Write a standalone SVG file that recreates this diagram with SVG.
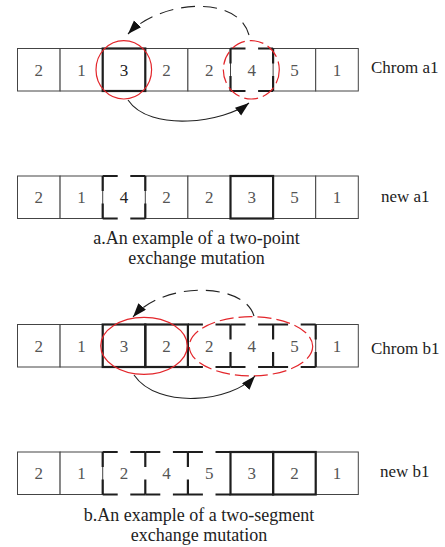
<svg xmlns="http://www.w3.org/2000/svg" width="445" height="547" viewBox="0 0 445 547">
  <style>
    .cell { fill: #fff; stroke: #444; stroke-width: 1; }
    .bold { fill: none; stroke: #1e1e1e; stroke-width: 2.2; }
    .dash { fill: none; stroke: #1e1e1e; stroke-width: 2.2; stroke-dasharray: 15 12.6; }
    text { font-family: "Liberation Serif", "Times New Roman", "DejaVu Serif", serif; }
    .num { font-size: 17px; fill: #555; text-anchor: middle; }
    .num.dark { fill: #222; }
    .label { font-size: 17px; fill: #222; }
    .caption { font-size: 18px; fill: #222; text-anchor: middle; }
    .sel { fill: none; stroke: #e3262b; stroke-width: 1.2; }
    .sel.dashed { stroke-dasharray: 14 5; }
    .arc { fill: none; stroke: #222; stroke-width: 1.1; }
    .arc.dashed { stroke-dasharray: 14 8; }
  </style>
  <defs>
    <marker id="head" markerUnits="userSpaceOnUse" markerWidth="16" markerHeight="12" refX="14" refY="5" orient="auto">
      <path d="M0,0 L14,5 L0,10 Z" fill="#111"/>
    </marker>
  </defs>

  <!-- Chrom a1 -->
  <g id="chrom-a1">
    <g id="a1-c0"><rect class="cell" x="17.5" y="48.5" width="42.6" height="42.5"/><text class="num" x="38.8" y="75.5">2</text></g>
    <g id="a1-c1"><rect class="cell" x="60.1" y="48.5" width="42.6" height="42.5"/><text class="num" x="81.4" y="75.5">1</text></g>
    <g id="a1-c3"><rect class="cell" x="145.3" y="48.5" width="42.6" height="42.5"/><text class="num" x="166.6" y="75.5">2</text></g>
    <g id="a1-c4"><rect class="cell" x="187.9" y="48.5" width="42.6" height="42.5"/><text class="num" x="209.2" y="75.5">2</text></g>
    <g id="a1-c6"><rect class="cell" x="273.1" y="48.5" width="42.6" height="42.5"/><text class="num" x="294.4" y="75.5">5</text></g>
    <g id="a1-c7"><rect class="cell" x="315.7" y="48.5" width="42.6" height="42.5"/><text class="num" x="337" y="75.5">1</text></g>
    <g id="a1-c5"><path class="dash" d="M230.5,48.5h42.6M273.1,48.5v42.5M273.1,91h-42.6M230.5,91v-42.5"/><text class="num" x="251.8" y="75.5">4</text></g>
    <g id="a1-c2"><rect class="bold" x="102.7" y="48.5" width="42.6" height="42.5"/><text class="num dark" x="124" y="75.5">3</text></g>
    <text class="label" x="371" y="73">Chrom a1</text>
  </g>

  <!-- new a1 -->
  <g id="new-a1">
    <g id="na1-c0"><rect class="cell" x="17.5" y="176" width="42.6" height="42.5"/><text class="num" x="38.8" y="203">2</text></g>
    <g id="na1-c1"><rect class="cell" x="60.1" y="176" width="42.6" height="42.5"/><text class="num" x="81.4" y="203">1</text></g>
    <g id="na1-c3"><rect class="cell" x="145.3" y="176" width="42.6" height="42.5"/><text class="num" x="166.6" y="203">2</text></g>
    <g id="na1-c4"><rect class="cell" x="187.9" y="176" width="42.6" height="42.5"/><text class="num" x="209.2" y="203">2</text></g>
    <g id="na1-c6"><rect class="cell" x="273.1" y="176" width="42.6" height="42.5"/><text class="num" x="294.4" y="203">5</text></g>
    <g id="na1-c7"><rect class="cell" x="315.7" y="176" width="42.6" height="42.5"/><text class="num" x="337" y="203">1</text></g>
    <g id="na1-c2"><path class="dash" d="M102.7,176h42.6M145.3,176v42.5M145.3,218.5h-42.6M102.7,218.5v-42.5"/><text class="num dark" x="124" y="203">4</text></g>
    <g id="na1-c5"><rect class="bold" x="230.5" y="176" width="42.6" height="42.5"/><text class="num" x="251.8" y="203">3</text></g>
    <text class="label" x="381" y="201.5">new a1</text>
  </g>

  <text class="caption" x="196.5" y="244">a.An example of a two-point</text>
  <text class="caption" x="196.5" y="263.5">exchange mutation</text>

  <!-- Chrom b1 -->
  <g id="chrom-b1">
    <g id="b1-c0"><rect class="cell" x="17.5" y="324.5" width="42.6" height="42.5"/><text class="num" x="38.8" y="351.5">2</text></g>
    <g id="b1-c1"><rect class="cell" x="60.1" y="324.5" width="42.6" height="42.5"/><text class="num" x="81.4" y="351.5">1</text></g>
    <g id="b1-c7"><rect class="cell" x="315.7" y="324.5" width="42.6" height="42.5"/><text class="num" x="337" y="351.5">1</text></g>
    <g id="b1-c4"><path class="dash" d="M187.9,324.5h42.6M230.5,324.5v42.5M230.5,367h-42.6"/><text class="num" x="209.2" y="351.5">2</text></g>
    <g id="b1-c5"><path class="dash" d="M230.5,324.5h42.6M273.1,324.5v42.5M273.1,367h-42.6"/><text class="num" x="251.8" y="351.5">4</text></g>
    <g id="b1-c6"><path class="dash" d="M273.1,324.5h42.6M315.7,324.5v42.5M315.7,367h-42.6"/><text class="num" x="294.4" y="351.5">5</text></g>
    <g id="b1-c2"><rect class="bold" x="102.7" y="324.5" width="42.6" height="42.5"/><text class="num" x="124" y="351.5">3</text></g>
    <g id="b1-c3"><rect class="bold" x="145.3" y="324.5" width="42.6" height="42.5"/><text class="num" x="166.6" y="351.5">2</text></g>
    <text class="label" x="371" y="353.5">Chrom b1</text>
  </g>

  <!-- new b1 -->
  <g id="new-b1">
    <g id="nb1-c0"><rect class="cell" x="17.5" y="452" width="42.6" height="42.5"/><text class="num" x="38.8" y="479">2</text></g>
    <g id="nb1-c1"><rect class="cell" x="60.1" y="452" width="42.6" height="42.5"/><text class="num" x="81.4" y="479">1</text></g>
    <g id="nb1-c7"><rect class="cell" x="315.7" y="452" width="42.6" height="42.5"/><text class="num" x="337" y="479">1</text></g>
    <g id="nb1-c2"><path class="dash" d="M102.7,452h42.6M145.3,452v42.5M145.3,494.5h-42.6M102.7,494.5v-42.5"/><text class="num" x="124" y="479">2</text></g>
    <g id="nb1-c3"><path class="dash" d="M145.3,452h42.6M187.9,452v42.5M187.9,494.5h-42.6"/><text class="num" x="166.6" y="479">4</text></g>
    <g id="nb1-c4"><path class="dash" d="M187.9,452h42.6M230.5,494.5h-42.6"/><text class="num" x="209.2" y="479">5</text></g>
    <g id="nb1-c5"><rect class="bold" x="230.5" y="452" width="42.6" height="42.5"/><text class="num" x="251.8" y="479">3</text></g>
    <g id="nb1-c6"><rect class="bold" x="273.1" y="452" width="42.6" height="42.5"/><text class="num" x="294.4" y="479">2</text></g>
    <text class="label" x="380" y="477">new b1</text>
  </g>

  <text class="caption" x="199" y="521">b.An example of a two-segment</text>
  <text class="caption" x="199" y="540.5">exchange mutation</text>

  <!-- selection rings -->
  <g id="selections">
    <ellipse class="sel" cx="123.8" cy="69.8" rx="27.8" ry="29.2"/>
    <ellipse class="sel dashed" cx="251.3" cy="69.8" rx="28" ry="29.2"/>
    <ellipse class="sel" cx="144" cy="345.8" rx="43.3" ry="28.5"/>
    <ellipse class="sel dashed" cx="251" cy="346.3" rx="61.7" ry="29.6"/>
  </g>

  <!-- exchange arrows -->
  <g id="connectors">
    <path class="arc dashed" d="M249,35 C238,-6 160,0 128,34" marker-end="url(#head)"/>
    <path class="arc" d="M128,100 C150,133 225,122 249,103" marker-end="url(#head)"/>
    <path class="arc dashed" d="M254,316 C245,283 165,280 133,317" marker-end="url(#head)"/>
    <path class="arc" d="M134,375 C158,410 232,402 255,376" marker-end="url(#head)"/>
  </g>
</svg>
